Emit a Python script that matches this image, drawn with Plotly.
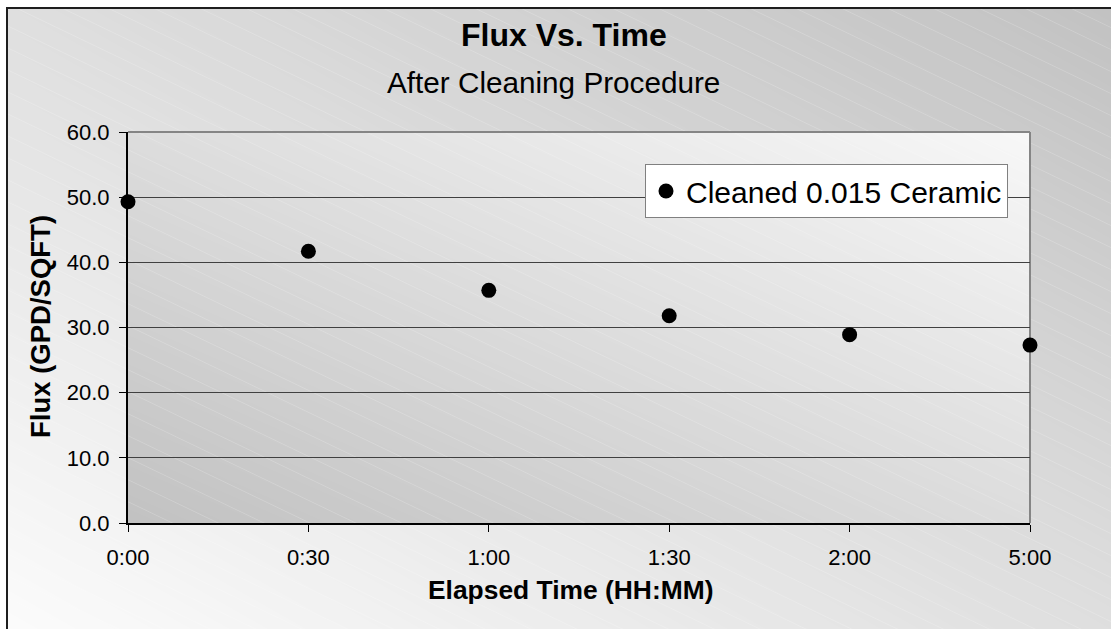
import base64
import struct
import zlib

import numpy as np
import plotly.graph_objects as go

# ---------------- data ----------------
time_labels = ["0:00", "0:30", "1:00", "1:30", "2:00", "5:00"]
flux_values = [49.3, 41.7, 35.7, 31.8, 28.9, 27.3]
series_name = "Cleaned 0.015 Ceramic"
y_tick_values = [0, 10, 20, 30, 40, 50, 60]

# ---------------- geometry ----------------
W, H = 1111, 629
L, T, R, B = 128, 132, 1030, 523
PW, PH = R - L, B - T

FONT = "Liberation Sans, Arial, sans-serif"


def px_x(px):
    return (px - L) / PW


def px_y(py):
    return (B - py) / PH


# ---------------- background image (gradients, stripes, border) ----------------
yy, xx = np.mgrid[0:H, 0:W].astype(float)
t = ((xx / W) + (1 - yy / H)) / 2
paper = 252 + (194 - 252) * t
inside = (xx >= L) & (xx <= R) & (yy >= T) & (yy <= B)
s = ((xx - L) / PW + (B - yy) / PH) / 2
plotbg = 194 + (248 - 194) * s
img = np.where(inside, plotbg, paper)
P = 22.0
f = (yy - 0.48 * xx) % P
d = np.minimum(f, P - f)
wgt = np.clip(1 - d / 0.9, 0, 1) * 0.18
img = img + (255 - img) * wgt
img[:7, :] = 255
img[:, :6] = 255
img[7:9, 6:] = 30
img[7:, 6:8] = 30
img = np.clip(img, 0, 255).astype(np.uint8)


def chunk(tag, data):
    return struct.pack(">I", len(data)) + tag + data + struct.pack(">I", zlib.crc32(tag + data) & 0xFFFFFFFF)


raw = b"".join(b"\x00" + img[r].tobytes() for r in range(H))
png = (b"\x89PNG\r\n\x1a\n"
       + chunk(b"IHDR", struct.pack(">IIBBBBB", W, H, 8, 0, 0, 0, 0))
       + chunk(b"IDAT", zlib.compress(raw, 9))
       + chunk(b"IEND", b""))
bg_src = "data:image/png;base64," + base64.b64encode(png).decode()

# ---------------- figure ----------------
x_pos = list(range(len(time_labels)))

fig = go.Figure()
fig.add_trace(go.Scatter(
    x=x_pos, y=flux_values, mode="markers", name=series_name,
    marker=dict(color="black", size=15, symbol="circle"),
    cliponaxis=False, showlegend=True,
))

fig.update_layout(
    width=W, height=H,
    margin=dict(l=L, r=W - R, t=T, b=H - B, pad=0),
    paper_bgcolor="white",
    plot_bgcolor="rgba(0,0,0,0)",
    font=dict(family=FONT, color="black"),
    showlegend=True,
    legend=dict(
        x=px_x(645), y=px_y(164), xanchor="left", yanchor="top",
        bgcolor="white", bordercolor="#808080", borderwidth=1,
        font=dict(size=30, family=FONT, color="black"),
    ),
    images=[dict(
        source=bg_src, xref="paper", yref="paper",
        x=-L / PW, y=1 + T / PH, sizex=W / PW, sizey=H / PH,
        xanchor="left", yanchor="top", sizing="stretch", layer="below",
    )],
    xaxis=dict(
        range=[0, len(time_labels) - 1],
        tickmode="array", tickvals=x_pos, ticktext=time_labels,
        ticks="outside", ticklen=7, tickwidth=1, tickcolor="black",
        showline=True, linecolor="black", linewidth=2,
        showgrid=False, zeroline=False,
        tickfont=dict(size=22, family=FONT, color="black"),
        ticklabelstandoff=7,
    ),
    yaxis=dict(
        range=[0, 60],
        tickmode="array", tickvals=y_tick_values,
        tickformat=".1f",
        ticks="outside", ticklen=7, tickwidth=1, tickcolor="black",
        showline=True, linecolor="black", linewidth=2,
        showgrid=True, gridcolor="#404040", gridwidth=1,
        zeroline=False,
        tickfont=dict(size=22, family=FONT, color="black"),
        ticklabelstandoff=5,
    ),
    shapes=[
        dict(type="line", xref="paper", yref="paper", x0=0, x1=1, y0=1, y1=1,
             line=dict(color="#858585", width=2), layer="between"),
        dict(type="line", xref="paper", yref="paper", x0=1, x1=1, y0=0, y1=1,
             line=dict(color="#858585", width=2), layer="between"),
    ],
    annotations=[
        dict(text="<b>Flux Vs. Time</b>", xref="paper", yref="paper",
             x=px_x(564), y=px_y(35), xanchor="center", yanchor="middle",
             showarrow=False, font=dict(size=32, family=FONT, color="black")),
        dict(text="After Cleaning Procedure", xref="paper", yref="paper",
             x=px_x(553), y=px_y(83), xanchor="center", yanchor="middle",
             showarrow=False, font=dict(size=29.7, family=FONT, color="black")),
        dict(text="<b>Elapsed Time (HH:MM)</b>", xref="paper", yref="paper",
             x=px_x(570), y=px_y(590), xanchor="center", yanchor="middle",
             showarrow=False, font=dict(size=26.4, family=FONT, color="black")),
        dict(text="<b>Flux (GPD/SQFT)</b>", xref="paper", yref="paper",
             x=px_x(40), y=px_y(327), xanchor="center", yanchor="middle",
             textangle=-90, showarrow=False,
             font=dict(size=27.5, family=FONT, color="black")),
    ],
)

fig.write_html("out.html")
